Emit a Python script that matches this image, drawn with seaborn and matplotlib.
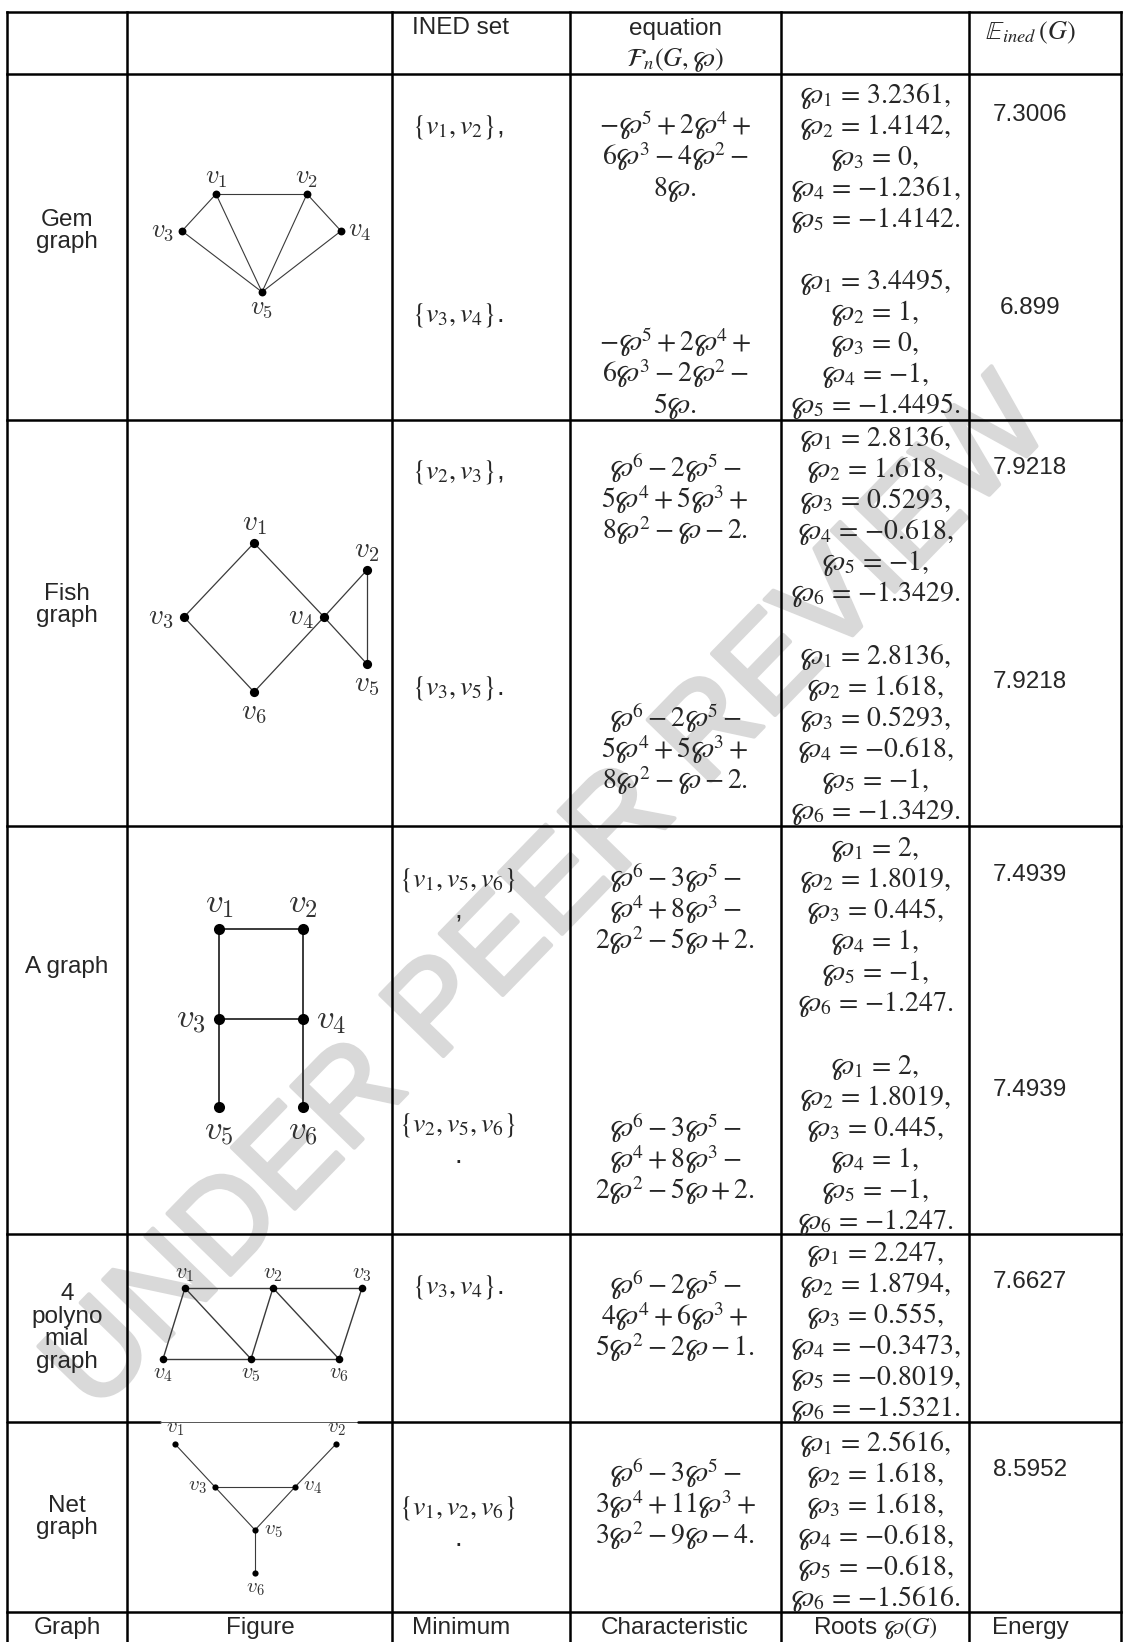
import matplotlib
matplotlib.use("Agg")
import matplotlib.pyplot as plt
import matplotlib.patheffects as pe
import pandas as pd
import seaborn as sns

# -----------------------------
# TABLE CONTENT
# -----------------------------
graph_names = ["Gem\ngraph", "Fish\ngraph", "A graph", "4\npolyno\nmial\ngraph", "Net\ngraph"]

# one entry per (graph, INED set) pair
entry_graph = [0, 0, 1, 1, 2, 2, 3, 4]

ined_sets = [
    [r"$\{v_1,v_2\}$,"],
    [r"$\{v_3,v_4\}$."],
    [r"$\{v_2,v_3\}$,"],
    [r"$\{v_3,v_5\}$."],
    [r"$\{v_1,v_5,v_6\}$", ","],
    [r"$\{v_2,v_5,v_6\}$", "."],
    [r"$\{v_3,v_4\}$."],
    [r"$\{v_1,v_2,v_6\}$", "."],
]

char_equations = [
    [r"$-\wp^5+2\wp^4+$", r"$6\wp^3-4\wp^2-$", r"$8\wp.$"],
    [r"$-\wp^5+2\wp^4+$", r"$6\wp^3-2\wp^2-$", r"$5\wp.$"],
    [r"$\wp^6-2\wp^5-$", r"$5\wp^4+5\wp^3+$", r"$8\wp^2-\wp-2.$"],
    [r"$\wp^6-2\wp^5-$", r"$5\wp^4+5\wp^3+$", r"$8\wp^2-\wp-2.$"],
    [r"$\wp^6-3\wp^5-$", r"$\wp^4+8\wp^3-$", r"$2\wp^2-5\wp+2.$"],
    [r"$\wp^6-3\wp^5-$", r"$\wp^4+8\wp^3-$", r"$2\wp^2-5\wp+2.$"],
    [r"$\wp^6-2\wp^5-$", r"$4\wp^4+6\wp^3+$", r"$5\wp^2-2\wp-1.$"],
    [r"$\wp^6-3\wp^5-$", r"$3\wp^4+11\wp^3+$", r"$3\wp^2-9\wp-4.$"],
]

roots = [
    [3.2361, 1.4142, 0, -1.2361, -1.4142],
    [3.4495, 1, 0, -1, -1.4495],
    [2.8136, 1.618, 0.5293, -0.618, -1, -1.3429],
    [2.8136, 1.618, 0.5293, -0.618, -1, -1.3429],
    [2, 1.8019, 0.445, 1, -1, -1.247],
    [2, 1.8019, 0.445, 1, -1, -1.247],
    [2.247, 1.8794, 0.555, -0.3473, -0.8019, -1.5321],
    [2.5616, 1.618, 1.618, -0.618, -0.618, -1.5616],
]

energy = [7.3006, 6.899, 7.9218, 7.9218, 7.4939, 7.4939, 7.6627, 8.5952]

header_top = ["INED set", "equation", r"$\mathcal{F}_n(G,\wp)$", r"$\mathbb{E}_{ined}\,(G)$"]
header_bottom = ["Graph", "Figure", "Minimum", "Characteristic", r"Roots $\wp(G)$", "Energy"]

# small graph drawings: vertices and edges
gem_x = [216, 307, 182, 341, 262]
gem_y = [194, 194, 231, 231, 292]
gem_edges = [(1, 2), (1, 3), (1, 5), (2, 4), (2, 5), (3, 5), (4, 5)]
gem_side = ["up", "up", "left", "right", "down"]

fish_x = [254, 367, 184, 324, 367, 254]
fish_y = [543, 570, 617, 617, 664, 692]
fish_edges = [(1, 3), (1, 4), (3, 6), (4, 6), (2, 4), (4, 5), (2, 5)]
fish_side = ["up", "up", "left", "left", "down", "down"]

agraph_x = [219, 303, 219, 303, 219, 303]
agraph_y = [929, 929, 1019, 1019, 1107, 1107]
agraph_edges = [(1, 2), (1, 3), (2, 4), (3, 4), (3, 5), (4, 6)]
agraph_side = ["up", "up", "left", "right", "down", "down"]

poly_x = [185, 273, 362, 163, 251, 339]
poly_y = [1288, 1288, 1288, 1359, 1359, 1359]
poly_edges = [(1, 2), (2, 3), (4, 5), (5, 6), (1, 4), (1, 5), (2, 5), (2, 6), (3, 6)]
poly_side = ["up", "up", "up", "down", "down", "down"]

net_x = [175, 336, 215, 295, 255, 255]
net_y = [1444, 1444, 1487, 1487, 1530, 1573]
net_edges = [(1, 3), (2, 4), (3, 4), (3, 5), (4, 5), (5, 6)]
net_side = ["up", "up", "left", "right", "right", "down"]

# -----------------------------
# LAYOUT (pixel space of the page)
# -----------------------------
W, H = 1123, 1642
col_x = [7, 127, 392, 570, 781, 969, 1121]
row_y = [12, 74, 420, 826, 1234, 1422, 1612]
x_name, x_fig, x_ined, x_eq, x_root, x_energy = 67, 260, 461, 675, 875, 1030

root_y0 = [94, 280, 437, 655, 847, 1065, 1252, 1442]
eq_y0 = [125, 342, 468, 718, 878, 1128, 1285, 1473]
energy_y = [115, 308, 468, 682, 875, 1090, 1282, 1470]
ined_y = [127, 315, 472, 688, 880, 1125, 1287, 1508]
name_y = [231, 605, 967, 1328, 1517]
step = 31

TXT = 17.5   # Arial-like body text
MTH = 20     # Cambria-like math text

sns.set_theme(style="white")
plt.rcParams["font.family"] = ["Liberation Sans", "DejaVu Sans"]
plt.rcParams["mathtext.fontset"] = "stix"

fig = plt.figure(figsize=(W / 100, H / 100), dpi=100)
ax = fig.add_axes([0, 0, 1, 1])
ax.set_facecolor("white")

# watermark
ax.text(551, 898, "UNDER PEER REVIEW", rotation=45.8, rotation_mode="anchor",
        fontsize=92, color="#d9d9d9", ha="center", va="center", zorder=0,
        path_effects=[pe.withStroke(linewidth=3, foreground="#d9d9d9")])

# grid lines
lw = 1.8
for x in col_x:
    ax.plot([x, x], [row_y[0], H], color="black", lw=lw, zorder=2, solid_capstyle="projecting")
for y in row_y:
    if y == 1422:
        ax.plot([col_x[0], 160], [y, y], color="black", lw=lw, zorder=2)
        ax.plot([160, 358], [y, y], color="#555555", lw=0.7, zorder=2)
        ax.plot([358, col_x[-1]], [y, y], color="black", lw=lw, zorder=2)
    else:
        ax.plot([col_x[0], col_x[-1]], [y, y], color="black", lw=lw, zorder=2,
                solid_capstyle="projecting")

# headers
ax.text(x_ined, 28, header_top[0], fontsize=TXT, ha="center", va="center")
ax.text(x_eq, 29, header_top[1], fontsize=TXT, ha="center", va="center")
ax.text(x_eq, 60, header_top[2], fontsize=19, ha="center", va="center")
ax.text(x_energy, 33, header_top[3], fontsize=19, ha="center", va="center")
for x, lab in zip([x_name, x_fig, x_ined, x_eq, x_root, x_energy], header_bottom):
    ax.text(x, 1628, lab, fontsize=TXT, ha="center", va="center")

# graph names
for name, y in zip(graph_names, name_y):
    ax.text(x_name, y, name, fontsize=TXT, ha="center", va="center", linespacing=1.05)

# entries
for k in range(len(energy)):
    for i, line in enumerate(ined_sets[k]):
        ax.text(x_ined - 3, ined_y[k] + i * step, line, fontsize=MTH, ha="center", va="center")
    for i, line in enumerate(char_equations[k]):
        ax.text(x_eq, eq_y0[k] + i * step + 9, line, fontsize=MTH, ha="center", va="baseline")
    n = len(roots[k])
    for i, v in enumerate(roots[k]):
        end = "." if i == n - 1 else ","
        ax.text(x_root, root_y0[k] + i * step + 9,
                rf"$\wp_{{{i + 1}}}\,=\,{{{v:g}}}{end}$",
                fontsize=MTH, ha="center", va="baseline")
    ax.text(x_energy, energy_y[k], f"{energy[k]:g}", fontsize=TXT, ha="center", va="center")

# graph drawings
graphs = [
    (gem_x, gem_y, gem_edges, gem_side, 32, 0.8, 19, 16),
    (fish_x, fish_y, fish_edges, fish_side, 44, 0.9, 21, 20),
    (agraph_x, agraph_y, agraph_edges, agraph_side, 64, 1.4, 25, 25),
    (poly_x, poly_y, poly_edges, poly_side, 30, 1.0, 16, 15),
    (net_x, net_y, net_edges, net_side, 20, 0.8, 15, 15),
]
for gx, gy, edges, side, size, ew, lsize, off in graphs:
    nodes = pd.DataFrame({"x": gx, "y": gy, "v": [f"v{i + 1}" for i in range(len(gx))]})
    for a, b in edges:
        ax.plot([gx[a - 1], gx[b - 1]], [gy[a - 1], gy[b - 1]], color="#3a3a3a", lw=ew, zorder=3)
    sns.scatterplot(data=nodes, x="x", y="y", s=size, color="black", linewidth=0,
                    legend=False, ax=ax, zorder=4)
    for i, s in enumerate(side):
        dx, dy = {"up": (0, -off), "down": (0, off), "left": (-off - 3, 0), "right": (off + 3, 0)}[s]
        ax.text(gx[i] + dx, gy[i] + dy, rf"$v_{{{i + 1}}}$", fontsize=lsize, color="#333333",
                ha="center", va="center", math_fontfamily="cm", zorder=5)

ax.set_xlim(0, W)
ax.set_ylim(H, 0)
ax.axis("off")
fig.savefig("out.png", dpi=100, facecolor="white")
